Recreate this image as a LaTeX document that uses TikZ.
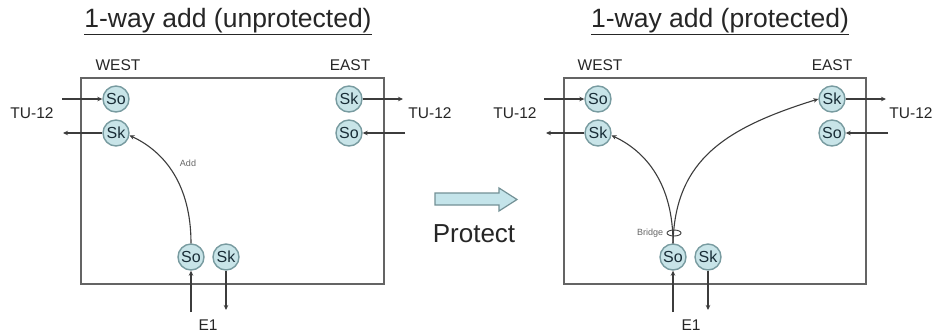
\documentclass[tikz,border=0pt]{standalone}
\usepackage{fontspec}
\setmainfont{Liberation Sans}
\usetikzlibrary{arrows.meta,shapes.geometric}
\definecolor{portfill}{RGB}{200,228,232}
\definecolor{portedge}{RGB}{120,155,160}
\definecolor{porttext}{RGB}{25,45,55}
\definecolor{linec}{RGB}{60,60,60}
\definecolor{boxc}{RGB}{100,100,100}
\definecolor{protfill}{RGB}{196,228,234}
\definecolor{protedge}{RGB}{115,145,150}
\tikzset{
  port/.style={circle, draw=portedge, fill=portfill, line width=1.4pt, minimum size=26pt, inner sep=0pt,
    font=\fontsize{16}{16}\selectfont, text=porttext},
  panel/.style={draw=boxc, line width=1.3pt},
  conn/.style={draw=linec, line width=1.1pt, -{Stealth[length=5pt,width=4.5pt]}},
  title/.style={font=\fontsize{26.5}{26.5}\selectfont, text=black!85, anchor=base},
  side/.style={font=\fontsize{15.5}{15.5}\selectfont, text=black!85, anchor=base},
  tiny/.style={font=\fontsize{9}{9}\selectfont, text=black!60},
}
\begin{document}
\begin{tikzpicture}[x=1pt,y=-1pt]
\useasboundingbox (0,0) rectangle (933,333);
\fill[white] (0,0) rectangle (933,333);

% ---------- left panel ----------
\node[title] (lt) at (228,27) {\underline{1-way add (unprotected)}};
\draw[panel] (81,78) rectangle (384,284);
\node[side] (lw) at (118,70) {WEST};
\node[side] (le) at (350,70) {EAST};
\node[side] (ltl) at (32,118) {TU-12};
\node[side] (ltr) at (430,118) {TU-12};
\node[side] (le1) at (208,330) {E1};

\node[port] (lSoW) at (116,99) {So};
\node[port] (lSkW) at (116,133) {Sk};
\node[port] (lSkE) at (349,99) {Sk};
\node[port] (lSoE) at (349,133) {So};
\node[port] (lSoB) at (191,257) {So};
\node[port] (lSkB) at (226,257) {Sk};

\coordinate (lInW) at (62,99);
\coordinate (lOutW) at (63,133);
\coordinate (lOutE) at (403,99);
\coordinate (lInE) at (405,133);
\coordinate (lInB) at (191,312);
\coordinate (lOutB) at (226,310);

\draw[conn] (lInW) -- (lSoW);
\draw[conn] (lSkW) -- (lOutW);
\draw[conn] (lSkE) -- (lOutE);
\draw[conn] (lInE) -- (lSoE);
\draw[conn] (lInB) -- (lSoB);
\draw[conn] (lSkB) -- (lOutB);
\draw[conn] (lSoB.north) .. controls (191,185) and (165,152) .. (lSkW.-10);
\node[tiny] (ladd) at (188,163) {Add};

% ---------- protect arrow ----------
\filldraw[fill=protfill, draw=protedge, line width=1.2pt]
  (435,193) -- (499,193) -- (499,188) -- (517,199.5) -- (499,211) -- (499,205) -- (435,205) -- cycle;
\node[font=\fontsize{26}{26}\selectfont, text=black!85, anchor=base] (prot) at (474,242) {Protect};

% ---------- right panel ----------
\node[title] (rt) at (720,27) {\underline{1-way add (protected)}};
\draw[panel] (564,78) rectangle (866,284);
\node[side] (rw) at (600,70) {WEST};
\node[side] (re) at (832,70) {EAST};
\node[side] (rtl) at (515,118) {TU-12};
\node[side] (rtr) at (911,118) {TU-12};
\node[side] (re1) at (691,330) {E1};

\node[port] (rSoW) at (598,99) {So};
\node[port] (rSkW) at (598,133) {Sk};
\node[port] (rSkE) at (832,99) {Sk};
\node[port] (rSoE) at (832,133) {So};
\node[port] (rSoB) at (673,257) {So};
\node[port] (rSkB) at (708,257) {Sk};

\coordinate (rInW) at (544,99);
\coordinate (rOutW) at (546,133);
\coordinate (rOutE) at (886,99);
\coordinate (rInE) at (888,133);
\coordinate (rInB) at (673,312);
\coordinate (rOutB) at (708,310);

\draw[conn] (rInW) -- (rSoW);
\draw[conn] (rSkW) -- (rOutW);
\draw[conn] (rSkE) -- (rOutE);
\draw[conn] (rInE) -- (rSoE);
\draw[conn] (rInB) -- (rSoB);
\draw[conn] (rSkB) -- (rOutB);
\draw[conn] (rSoB.north) .. controls (673,185) and (647,152) .. (rSkW.-10);
\draw[conn] (rSoB.north) .. controls (675,160) and (725,128) .. (rSkE.west);
\node[ellipse, draw=linec, line width=0.9pt, minimum width=14pt, minimum height=6pt, inner sep=0pt] (bridge) at (674,233) {};
\node[tiny, anchor=east] (bl) at (bridge.west) {Bridge};
\end{tikzpicture}
\end{document}
